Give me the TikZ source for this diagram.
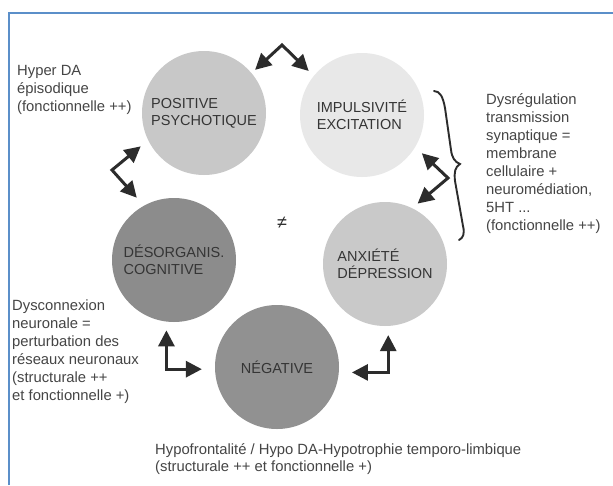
\documentclass[tikz,border=0pt]{standalone}
\usepackage{fontspec}
\setmainfont{Liberation Sans}
\usetikzlibrary{arrows.meta,calc}
\definecolor{frameblue}{HTML}{5B8FC9}
\definecolor{notegray}{HTML}{454545}
\definecolor{labelgray}{HTML}{353535}
\definecolor{arrowgray}{HTML}{2C2C2C}
\definecolor{posfill}{HTML}{C8C8C8}
\definecolor{impfill}{HTML}{E8E8E8}
\definecolor{desfill}{HTML}{8C8C8C}
\definecolor{anxfill}{HTML}{C9C9C9}
\definecolor{negfill}{HTML}{919191}
\begin{document}
\begin{tikzpicture}[x=1pt,y=-1pt,
  phase/.style={circle, minimum size=124pt, inner sep=0pt, align=left,
    text=labelgray, font=\fontsize{14.5}{17}\selectfont},
  link/.style={line width=3pt, draw=arrowgray, line join=miter,
    {Triangle[length=16pt,width=16pt]}-{Triangle[length=16pt,width=16pt]}},
  note/.style={anchor=north west, inner sep=0pt, align=left,
    text=notegray, font=\fontsize{14.8}{18}\selectfont}]
\useasboundingbox (0,0) rectangle (613,485);
\fill[white] (0,0) rectangle (613,485);
% page frame (top and left rules)
\draw[frameblue, line width=1.6pt] (9,485) -- (9,13) -- (613,13);

% the five symptom dimensions
\node[phase, fill=posfill] (pos) at (204,113) {POSITIVE\\PSYCHOTIQUE};
\node[phase, fill=impfill] (imp) at (362,115) {IMPULSIVITÉ\\EXCITATION};
\node[phase, fill=desfill] (des) at (174,260) {DÉSORGANIS.\\COGNITIVE};
\node[phase, fill=anxfill] (anx) at (385,264) {ANXIÉTÉ\\DÉPRESSION};
\node[phase, fill=negfill] (neg) at (277,367) {NÉGATIVE};

% bend points of the double arrows
\coordinate (apex) at (282,45);
\coordinate (bendl) at (112,170);
\coordinate (bendr) at (448,178);

\draw[link, shorten <=4.7pt, shorten >=7pt] (pos.40) -- (apex) -- (imp.141.5);
\draw[link, shorten <=9.6pt, shorten >=10.6pt] (pos.206.6) -- (bendl) -- (des.119.7);
\draw[link, shorten <=9pt, shorten >=7pt] (imp.-31.2) -- (bendr) -- (anx.64.2);
\draw[link, shorten <=8.6pt, shorten >=13pt] (des.263) |- (neg.182);
\draw[link, shorten <=9pt, shorten >=13pt] (anx.273) |- (neg.-5);

% centre sign
\node[text=arrowgray, font=\fontsize{18}{18}\selectfont] (neq) at (282,223) {≠};

% brace grouping the two upper-right dimensions
\draw[arrowgray, line width=1.9pt, line cap=round]
  (434,91) .. controls (440,91) and (443,97) .. (445,108)
  -- (451,150) .. controls (452,158) and (455,162) .. (460,164)
  .. controls (455,167) and (454,172) .. (455,181)
  -- (463,226) .. controls (465,234) and (463,238) .. (459,240);

% annotations
\node[note] (hyper) at (17,65) {Hyper DA\\épisodique\\(fonctionnelle ++)};
\node[note] (dysreg) at (486,93) {Dysrégulation\\transmission\\synaptique =\\membrane\\cellulaire +\\neuromédiation,\\5HT ...\\(fonctionnelle ++)};
\node[note] (dyscon) at (12,300) {Dysconnexion\\neuronale =\\perturbation des\\réseaux neuronaux\\(structurale ++\\et fonctionnelle +)};
\node[note, font=\fontsize{14.8}{17}\selectfont] (hypo) at (155,443) {Hypofrontalité / Hypo DA-Hypotrophie temporo-limbique\\(structurale ++ et fonctionnelle +)};
\end{tikzpicture}
\end{document}
